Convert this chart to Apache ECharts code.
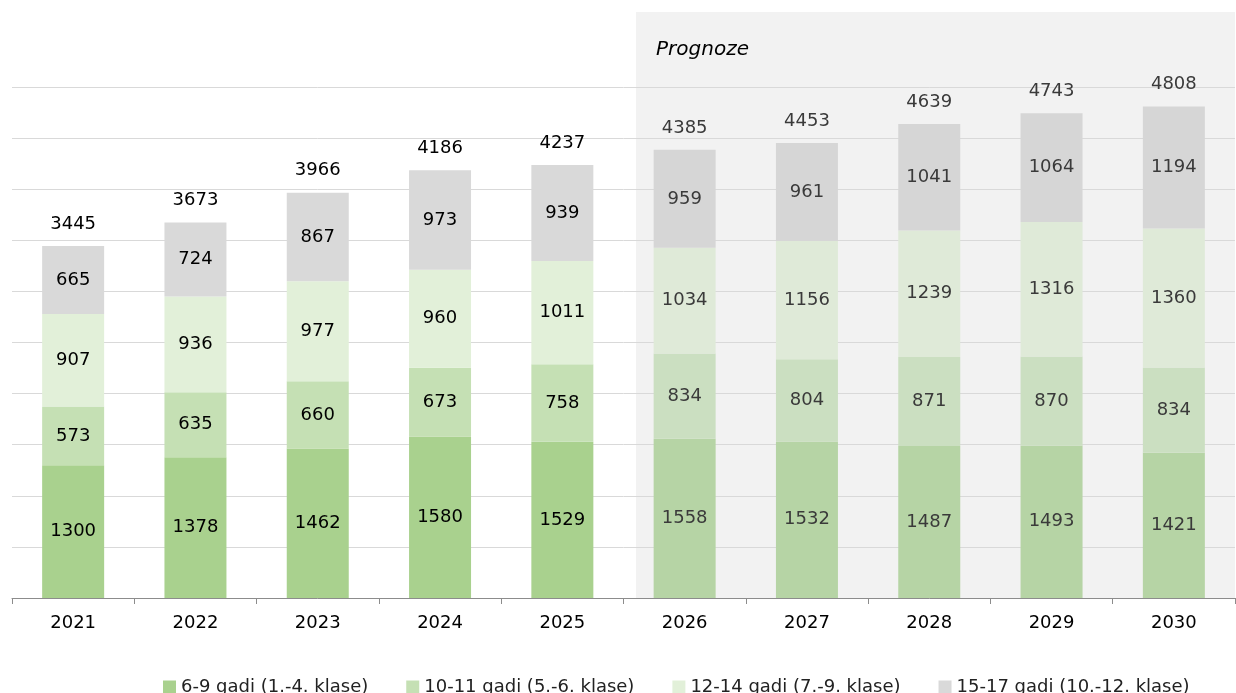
<!DOCTYPE html>
<html>
<head>
<meta charset="utf-8">
<script src="https://cdn.jsdelivr.net/npm/echarts@6/dist/echarts.min.js"></script>
<style>html,body{margin:0;padding:0;background:#fff}#c{width:1236px;height:693px}</style>
</head>
<body>
<div id="c"></div>
<script>
const years = ['2021','2022','2023','2024','2025','2026','2027','2028','2029','2030'];
const forecastFrom = 5;
const s69 = [1300,1378,1462,1580,1529,1558,1532,1487,1493,1421];
const s1011 = [573,635,660,673,758,834,804,871,870,834];
const s1214 = [907,936,977,960,1011,1034,1156,1239,1316,1360];
const s1517 = [665,724,867,973,939,959,961,1041,1064,1194];
const totals = [3445,3673,3966,4186,4237,4385,4453,4639,4743,4808];
const names = ['6-9 gadi (1.-4. klase)','10-11 gadi (5.-6. klase)','12-14 gadi (7.-9. klase)','15-17 gadi (10.-12. klase)'];
const colorsHist = ['#a9d18e','#c5e0b4','#e2f0d9','#d9d9d9'];
const colorsFc = ['#b6d4a5','#cbdfc1','#dfead8','#d6d6d6'];

const chart = echarts.init(document.getElementById('c'));
const font = 'DejaVu Sans';
const all = [s69,s1011,s1214,s1517];

const series = all.map((arr,k)=>({
  name: names[k], type:'bar', stack:'t', barWidth:62,
  itemStyle:{color:colorsHist[k]},
  data: arr.map((v,i)=>({value:v, itemStyle:{color: i>=forecastFrom?colorsFc[k]:colorsHist[k]},
    label:{color: i>=forecastFrom?'#3a3a3a':'#000'}})),
  label:{show:true, position:'inside', fontFamily:font, fontSize:18}
}));
series.push({
  name:'total', type:'bar', stack:'t', barWidth:62, silent:true,
  itemStyle:{color:'transparent'},
  data: totals.map((t,i)=>({value:0, label:{formatter:String(t), color: i>=forecastFrom?'#3a3a3a':'#000'}})),
  label:{show:true, position:'top', distance:13, fontFamily:font, fontSize:18}
});

chart.setOption({
  animation:false,
  graphic:[
    {type:'rect', z:-10, shape:{x:636,y:12,width:599,height:586}, style:{fill:'#f2f2f2'}},
    {type:'text', left:656, top:40, style:{text:'Prognoze', font:'italic 20px '+font, fill:'#000'}}
  ],
  legend:{data:names, left:158, top:673, itemWidth:13, itemHeight:13, itemGap:38, icon:'rect',
    textStyle:{fontFamily:font, fontSize:18, color:'#222'}},
  grid:{left:12, right:1, top:87, bottom:95},
  xAxis:{type:'category', data:years,
    axisLine:{lineStyle:{color:'#8c8c8c'}}, axisTick:{show:true,length:6,lineStyle:{color:'#8c8c8c'}},
    axisLabel:{fontFamily:font, fontSize:18, color:'#000', margin:16}},
  yAxis:{type:'value', min:0, max:5000, interval:500, axisLabel:{show:false},
    splitLine:{lineStyle:{color:'#d9d9d9'}}},
  series
});
</script>
</body>
</html>
